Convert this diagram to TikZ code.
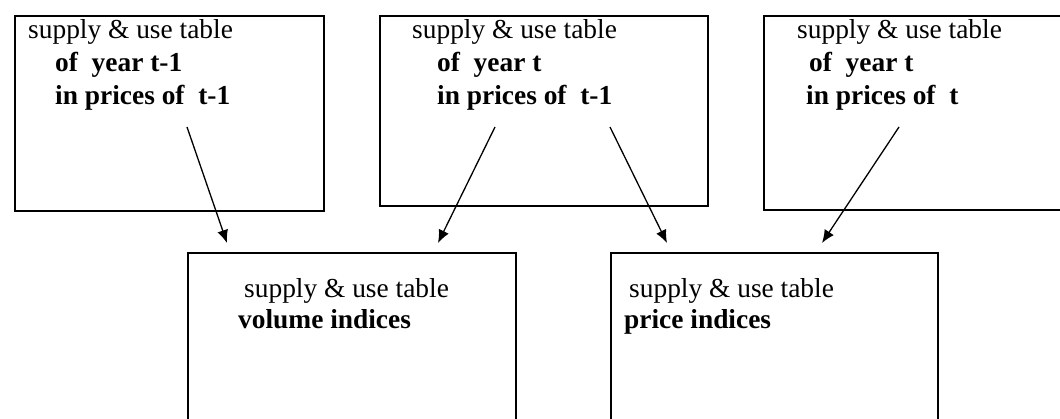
\documentclass[tikz,border=0pt]{standalone}
\usepackage{fontspec}
\setmainfont{Liberation Serif}
\usetikzlibrary{arrows.meta}

\begin{document}
\begin{tikzpicture}[x=1pt,y=-1pt,
  tablebox/.style={draw, line width=1.6pt, anchor=north west, inner sep=0pt},
  label/.style={anchor=base west, inner sep=0pt, font=\fontsize{27.4}{33}\selectfont},
  blabel/.style={label, font=\fontsize{27.4}{33}\selectfont\bfseries},
  link/.style={line width=1.3pt, -{Latex[length=13pt,width=11pt]}}]
  \clip (0,0) rectangle (1060,419);
  \fill[white] (0,0) rectangle (1060,419);

  % upper row: the three source tables
  \node[tablebox, minimum width=309pt, minimum height=195pt] (prev) at (14,15) {};
  \node[tablebox, minimum width=328pt, minimum height=190pt] (curp) at (379,15) {};
  \node[tablebox, minimum width=320pt, minimum height=194pt] (curc) at (763,15) {};

  % lower row: the derived index tables (run off the page)
  \node[tablebox, minimum width=328pt, minimum height=200pt] (vol) at (187,252) {};
  \node[tablebox, minimum width=327pt, minimum height=200pt] (pri) at (610,252) {};

  % texts of the upper row
  \node[label]  (prevA) at (28,39)  {supply \& use table};
  \node[blabel] (prevB) at (55,72)  {of\ \ year t-1};
  \node[blabel] (prevC) at (55,105) {in prices of\ \ t-1};

  \node[label]  (curpA) at (412,39)  {supply \& use table};
  \node[blabel] (curpB) at (437,72)  {of\ \ year t};
  \node[blabel] (curpC) at (437,105) {in prices of\ \ t-1};

  \node[label]  (curcA) at (797,39)  {supply \& use table};
  \node[blabel] (curcB) at (809,72)  {of\ \ year t};
  \node[blabel] (curcC) at (806,105) {in prices of\ \ t};

  % texts of the lower row
  \node[label]  (volA) at (244,298) {supply \& use table};
  \node[blabel] (volB) at (238,329) {volume indices};

  \node[label]  (priA) at (629,298) {supply \& use table};
  \node[blabel] (priB) at (624,329) {price indices};

  % arrow ends
  \coordinate (s1) at (187,127);
  \coordinate (e1) at (227,243);
  \coordinate (s2) at (495,127);
  \coordinate (e2) at (438,243);
  \coordinate (s3) at (610,127);
  \coordinate (e3) at (667,243);
  \coordinate (s4) at (899,127);
  \coordinate (e4) at (822,243);

  \draw[link] (s1) -- (e1);
  \draw[link] (s2) -- (e2);
  \draw[link] (s3) -- (e3);
  \draw[link] (s4) -- (e4);
\end{tikzpicture}
\end{document}
